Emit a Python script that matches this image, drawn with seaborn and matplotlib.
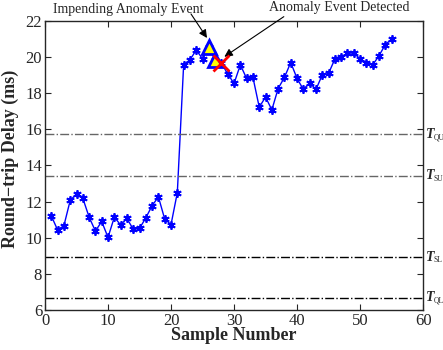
import matplotlib
matplotlib.use("Agg")
import matplotlib.pyplot as plt
import seaborn as sns
import pandas as pd
import numpy as np

samples = list(range(1, 56))
delay = [11.21, 10.43, 10.67, 12.07, 12.43, 12.19, 11.14, 10.37, 10.90, 10.02,
         11.14, 10.71, 11.07, 10.47, 10.52, 11.10, 11.78, 12.26, 11.03, 10.73,
         12.50, 19.57, 19.85, 20.39, 19.91, 20.55, 19.85, 19.66, 19.07, 18.54,
         19.57, 18.82, 18.88, 17.23, 17.79, 17.08, 18.26, 18.88, 19.70, 18.82,
         18.21, 18.58, 18.21, 19.01, 19.10, 19.89, 20.00, 20.22, 20.22, 19.91,
         19.70, 19.57, 20.07, 20.69, 21.00]
impending_idx = [26, 27]
detected_idx = [28]
thresh_names = ["QU", "SU", "SL", "QL"]
thresh_values = [15.72, 13.42, 8.92, 6.68]
thresh_colors = ["#666666", "#666666", "black", "black"]

sns.set_style("ticks")
plt.rcParams["font.family"] = ["Liberation Serif", "DejaVu Serif"]
plt.rcParams["xtick.direction"] = "in"
plt.rcParams["ytick.direction"] = "in"

fig = plt.figure(figsize=(4.43, 3.5), dpi=100)
ax = fig.add_axes([0.1016, 0.1143, 0.8534, 0.8257])

df = pd.DataFrame({"Sample": samples, "Delay": delay})
sns.lineplot(data=df, x="Sample", y="Delay", ax=ax, color="blue", lw=1,
             marker=(6, 2, 0), markersize=6, markeredgecolor="blue",
             markerfacecolor="blue", markeredgewidth=1.3)

for name, v, c in zip(thresh_names, thresh_values, thresh_colors):
    ax.axhline(v, color=c, ls="-.", lw=1)
    ax.annotate("T", xy=(60, v), xytext=(2, 0), textcoords="offset points",
                fontsize=10, fontweight="bold", fontstyle="italic",
                va="center", ha="left", annotation_clip=False)
    ax.annotate(name, xy=(60, v), xytext=(7.6, -2), textcoords="offset points",
                fontsize=5.5, va="center", ha="left", annotation_clip=False)

imp_x = impending_idx
imp_y = [delay[i - 1] for i in impending_idx]
ax.plot(imp_x, imp_y, ls="none", marker="^", markersize=10, markerfacecolor="yellow",
        markeredgecolor="blue", markeredgewidth=2, zorder=5)
det_x = detected_idx
det_y = [delay[i - 1] for i in detected_idx]
ax.plot(det_x, det_y, ls="none", marker="x", markersize=11, color="red",
        markeredgewidth=2, zorder=6)

ax.text(13.25, 22.62, "Impending Anomaly Event", ha="center", va="center",
        fontsize=10, clip_on=False)
ax.text(46.7, 22.74, "Anomaly Event Detected", ha="center", va="center",
        fontsize=10, clip_on=False)
ax.annotate("", xy=(25.71, 21.06), xytext=(23.17, 22.39), annotation_clip=False,
            arrowprops=dict(arrowstyle="-|>", color="black", lw=0.8,
                            shrinkA=0, shrinkB=0, mutation_scale=12))
ax.annotate("", xy=(28.46, 20.02), xytext=(37.9, 22.24), annotation_clip=False,
            arrowprops=dict(arrowstyle="-|>", color="black", lw=0.8,
                            shrinkA=0, shrinkB=0, mutation_scale=12))

ax.set_xlim(0, 60)
ax.set_ylim(6, 22)
ax.set_xticks(range(0, 61, 10))
ax.set_yticks(range(6, 23, 2))
ax.tick_params(labelsize=12, top=True, right=True, length=4, width=0.8, pad=2)
for s in ax.spines.values():
    s.set_visible(True)
    s.set_linewidth(1)
ax.set_xlabel("Sample Number", fontsize=13, fontweight="bold", labelpad=-1)
ax.set_ylabel("Round\u2212trip Delay (ms)", fontsize=13, fontweight="bold")
ax.yaxis.set_label_coords(-0.068, 0.522)

fig.savefig("out.png", dpi=100)
